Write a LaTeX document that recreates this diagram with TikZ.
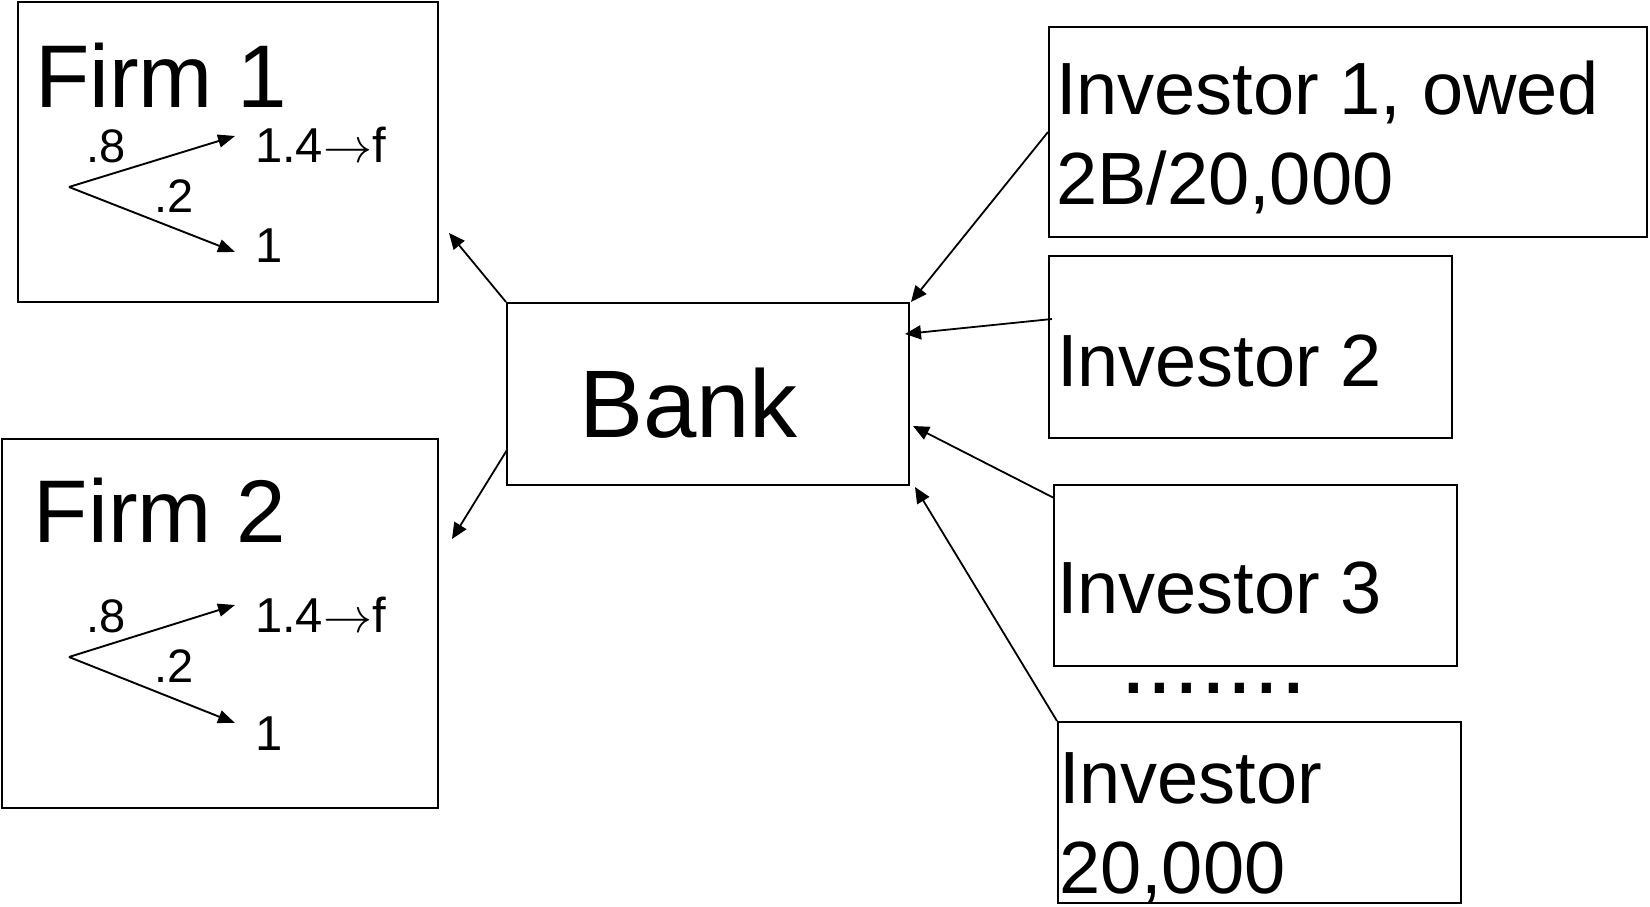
\documentclass[tikz,border=0pt]{standalone}
\usepackage{graphicx}
\usepackage{fontspec}
\setmainfont{Liberation Sans}
\usetikzlibrary{arrows.meta}
\newcommand{\bigarrow}{\scalebox{4.9}{\fontsize{10}{12}\selectfont$\rightarrow$}}
\begin{document}
\begin{tikzpicture}[x=1pt,y=-1pt,
  box/.style={draw, line width=2pt, inner sep=0pt, rectangle},
  txt/.style={anchor=base west, inner sep=0pt, outer sep=0pt},
  big/.style={txt, font=\fontsize{89}{100}\selectfont},
  bank/.style={txt, font=\fontsize{96}{110}\selectfont},
  inv/.style={txt, font=\fontsize{74}{89}\selectfont},
  lab/.style={txt, font=\fontsize{47}{56}\selectfont},
  val/.style={txt, font=\fontsize{49}{58}\selectfont},
  conn/.style={line width=1.8pt, -{Triangle[length=16pt,width=14pt]}},
  tree/.style={line width=1.9pt, -{Triangle[length=17pt,width=13pt]}}
]
\useasboundingbox (0,0) rectangle (1650,907);
% boxes
\node[box, minimum width=420pt, minimum height=300pt] (firm1) at (228,152) {};
\node[box, minimum width=436pt, minimum height=369pt] (firm2) at (220,623.5) {};
\node[box, minimum width=402pt, minimum height=182pt] (bank) at (708,394) {};
\node[box, minimum width=598pt, minimum height=210pt] (inv1) at (1348,132) {};
\node[box, minimum width=403pt, minimum height=182pt] (inv2) at (1250.5,347) {};
\node[box, minimum width=403pt, minimum height=181pt] (inv3) at (1255.5,575.5) {};
\node[box, minimum width=403pt, minimum height=181pt] (inv4) at (1259.5,812.5) {};
% texts
\node[big] (t-f1) at (35,107) {Firm 1};
\node[big] (t-f2) at (34,542) {Firm 2};
\node[bank] (t-bank) at (579,437) {Bank};
\node[inv] (t-i1a) at (1056,114) {Investor 1, owed};
\node[inv] (t-i1b) at (1056,204) {2B/20,000};
\node[inv] (t-i2) at (1057,386) {Investor 2};
\node[inv] (t-i3) at (1057,613) {Investor 3};
\node[inv] (t-i4a) at (1059,803) {Investor};
\node[inv] (t-i4b) at (1059,893) {20,000};
\node[txt, font=\fontsize{96}{106}\selectfont] (dots) at (1120,693) {\smash{.......}};
% firm 1 tree
\coordinate (r1) at (69,187);
\coordinate (r1a) at (235,136);
\coordinate (r1b) at (235,252);
\draw[tree] (r1) -- (r1a);
\draw[tree] (r1) -- (r1b);
\node[lab] (p1a) at (86,162) {.8};
\node[lab] (p1b) at (154,212) {.2};
\node[val] (v1a) at (255,162) {1.4\bigarrow f};
\node[val] (v1b) at (255,262) {1};
% firm 2 tree
\coordinate (r2) at (69,657);
\coordinate (r2a) at (235,605);
\coordinate (r2b) at (235,723);
\draw[tree] (r2) -- (r2a);
\draw[tree] (r2) -- (r2b);
\node[lab] (p2a) at (86,632) {.8};
\node[lab] (p2b) at (154,682) {.2};
\node[val] (v2a) at (255,632) {1.4\bigarrow f};
\node[val] (v2b) at (255,750) {1};
% connectors
\coordinate (e-f1) at (449,233);
\coordinate (e-f2) at (452,539);
\coordinate (s-f2) at (507,450);
\draw[conn] (bank.north west) -- (e-f1);
\draw[conn] (s-f2) -- (e-f2);
\coordinate (e-i1) at (911,302);
\coordinate (e-i2) at (905,334);
\coordinate (e-i3) at (913,426);
\coordinate (e-i4) at (915,487);
\coordinate (s-i2) at (1052,319);
\coordinate (s-i3) at (1054,498);
\draw[conn] (inv1.west) -- (e-i1);
\draw[conn] (s-i2) -- (e-i2);
\draw[conn] (s-i3) -- (e-i3);
\draw[conn] (inv4.north west) -- (e-i4);
\end{tikzpicture}
\end{document}
